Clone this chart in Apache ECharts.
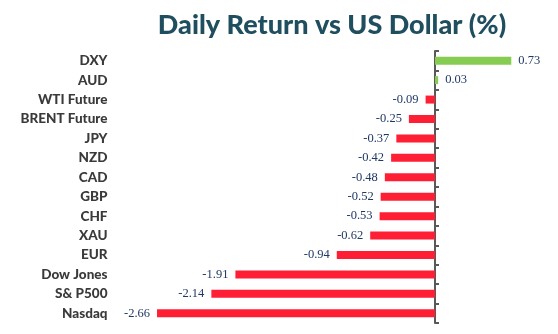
<!DOCTYPE html>
<html>
<head>
<meta charset="utf-8">
<script src="https://cdn.jsdelivr.net/npm/echarts@6/dist/echarts.min.js"></script>
<style>html,body{margin:0;padding:0;background:#fff;}#c{width:558px;height:334px;}</style>
</head>
<body>
<div id="c"></div>
<script>
const categories = ['DXY','AUD','WTI Future','BRENT Future','JPY','NZD','CAD','GBP','CHF','XAU','EUR','Dow Jones','S& P500','Nasdaq'];
const values = [0.73, 0.03, -0.09, -0.25, -0.37, -0.42, -0.48, -0.52, -0.53, -0.62, -0.94, -1.91, -2.14, -2.66];
const titleText = 'Daily Return vs US Dollar (%)';

const chart = echarts.init(document.getElementById('c'));
chart.setOption({
  animation: false,
  title: {
    text: titleText,
    left: 327, top: 7, textAlign: 'center',
    textStyle: { fontFamily: 'Lato', fontWeight: 900, fontSize: 27, color: '#1f4e5f' }
  },
  grid: { left: 121.5, right: 18.5, top: 51, bottom: 11, containLabel: false },
  xAxis: { type: 'value', min: -3, max: 1, show: false },
  yAxis: [
    {
      type: 'category', data: categories, inverse: true, position: 'left',
      axisLine: { show: false, onZero: false }, axisTick: { show: false },
      axisLabel: { margin: 14, fontFamily: 'Lato', fontWeight: 900, fontSize: 13.5, color: '#3a3a3a' }
    },
    {
      type: 'category', data: categories, inverse: true, position: 'left',
      axisLine: { show: true, onZero: true, lineStyle: { color: '#595959', width: 2 } },
      axisTick: { show: true, inside: true, length: 4, lineStyle: { color: '#595959', width: 2 } },
      axisLabel: { show: false }
    }
  ],
  series: [{
    type: 'bar', yAxisIndex: 0, barWidth: 8,
    data: values.map(v => ({ value: v, label: { position: v < 0 ? 'left' : 'right' } })),
    itemStyle: { color: p => p.value >= 0 ? '#86cc52' : '#ff1f35' },
    label: {
      show: true,
      distance: 7,
      fontFamily: 'Liberation Serif', fontSize: 12.5, color: '#203864',
      formatter: p => p.value.toFixed(2)
    }
  }]
});
</script>
</body>
</html>
